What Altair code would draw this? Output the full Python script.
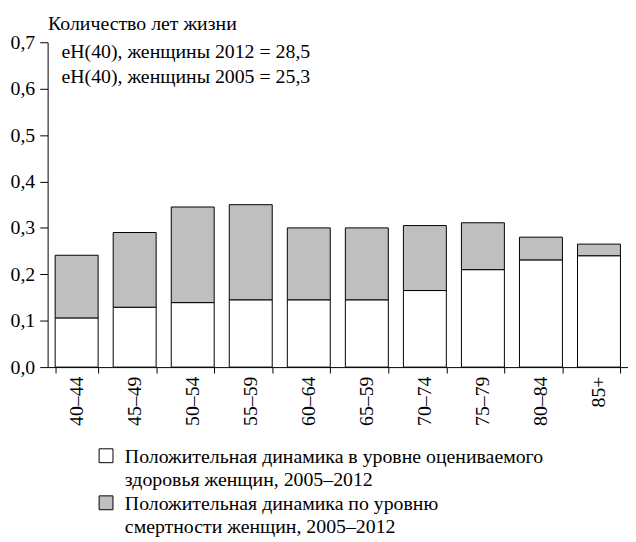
import altair as alt
import pandas as pd

ages = ["40–44", "45–49", "50–54", "55–59", "60–64", "65–59", "70–74", "75–79", "80–84", "85+"]
health_part = [0.106, 0.129, 0.139, 0.145, 0.145, 0.145, 0.165, 0.210, 0.231, 0.240]
mortality_part = [0.135, 0.161, 0.206, 0.205, 0.155, 0.155, 0.140, 0.101, 0.049, 0.025]
series = ["health", "mortality"]
series_colors = ["#ffffff", "#bfbfbf"]
legend_lines = [
    ["Положительная динамика в уровне оцениваемого", "здоровья женщин, 2005–2012"],
    ["Положительная динамика по уровню", "смертности женщин, 2005–2012"],
]
y_ticks = [0.0, 0.1, 0.2, 0.3, 0.4, 0.5, 0.6, 0.7]
notes = ["eH(40), женщины 2012 = 28,5", "eH(40), женщины 2005 = 25,3"]
y_title = "Количество лет жизни"

rows = []
for a, h, m in zip(ages, health_part, mortality_part):
    rows.append({"age": a, "series": series[0], "order": 0, "value": h})
    rows.append({"age": a, "series": series[1], "order": 1, "value": m})
df = pd.DataFrame(rows)

FONT = "Liberation Serif"

bars = alt.Chart(df).mark_bar(stroke="black", strokeWidth=1).encode(
    x=alt.X(
        "age:N",
        sort=ages,
        scale=alt.Scale(paddingInner=0.26, paddingOuter=0.13),
        axis=alt.Axis(
            title=None,
            labelAngle=270,
            labelAlign="right",
            labelBaseline="middle",
            labelPadding=3,
            labelFontSize=20,
            labelFont=FONT,
            labelColor="black",
            tickBand="extent",
            tickSize=6,
            tickColor="black",
            domainColor="black",
            grid=False,
        ),
    ),
    y=alt.Y(
        "value:Q",
        stack="zero",
        scale=alt.Scale(domain=[0, 0.7], nice=False),
        axis=alt.Axis(
            title=y_title,
            titleAngle=0,
            titleAlign="left",
            titleBaseline="alphabetic",
            titleX=0,
            titleY=-13,
            titleFont=FONT,
            titleFontSize=20,
            titleFontWeight="normal",
            titleColor="black",
            values=y_ticks,
            labelExpr="replace(format(datum.value, '.1f'), '.', ',')",
            labelFont=FONT,
            labelFontSize=20,
            labelColor="black",
            labelPadding=5,
            tickSize=8,
            tickColor="black",
            domainColor="black",
            grid=False,
        ),
    ),
    color=alt.Color(
        "series:N",
        scale=alt.Scale(domain=series, range=series_colors),
        legend=None,
    ),
    order=alt.Order("order:Q"),
)


def text_line(text, x, y):
    return alt.Chart(pd.DataFrame({"text": [text]})).mark_text(
        align="left", baseline="alphabetic", font=FONT, fontSize=20, color="black"
    ).encode(text="text:N", x=alt.value(x), y=alt.value(y))


def legend_square(fill, y):
    return alt.Chart(pd.DataFrame({"k": [fill]})).mark_square(
        size=196, fill=fill, stroke="black", strokeWidth=1, opacity=1, filled=True
    ).encode(x=alt.value(59), y=alt.value(y))


layers = [bars, text_line(notes[0], 14, 16), text_line(notes[1], 14, 41)]
layers.append(legend_square(series_colors[0], 417.5))
layers.append(legend_square(series_colors[1], 465))
layers.append(text_line(legend_lines[0][0], 78, 425))
layers.append(text_line(legend_lines[0][1], 78, 448))
layers.append(text_line(legend_lines[1][0], 78, 472))
layers.append(text_line(legend_lines[1][1], 78, 495))

chart = alt.layer(*layers).properties(
    width=586,
    height=328,
    autosize=alt.AutoSizeParams(type="none"),
    padding={"left": 40, "top": 32, "right": 0, "bottom": 174},
    view=alt.ViewBackground(stroke="transparent"),
)

chart.save("out.html", embed_options={"renderer": "svg", "actions": False})
